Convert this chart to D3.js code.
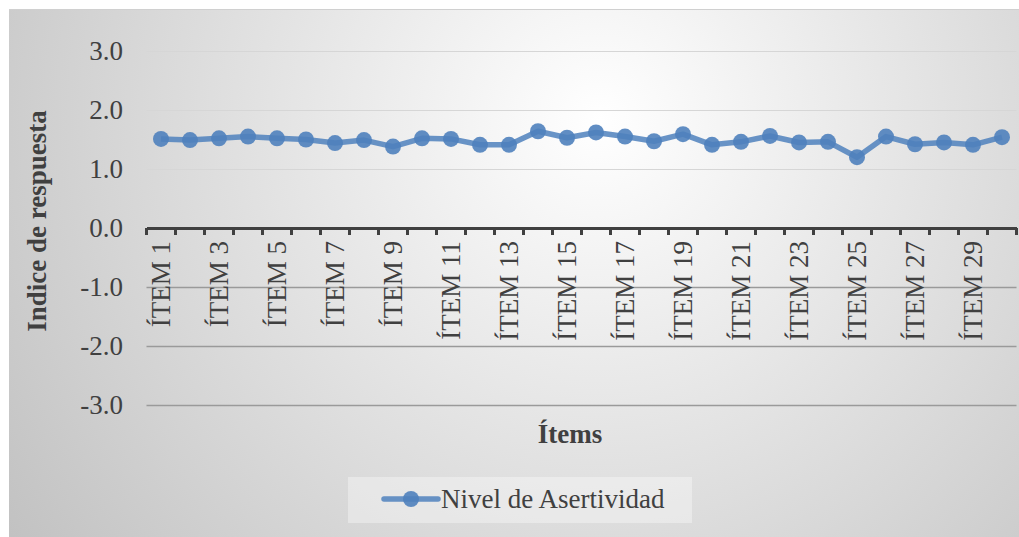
<!DOCTYPE html>
<html><head><meta charset="utf-8">
<script src="https://cdn.jsdelivr.net/npm/d3@7"></script>
<style>html,body{margin:0;padding:0;background:#fff;}svg{display:block;}</style>
</head><body>
<script>
const categories = Array.from({length:30},(_,i)=>"ÍTEM "+(i+1));
const values = [1.51,1.49,1.52,1.55,1.52,1.50,1.44,1.49,1.38,1.52,1.51,1.41,1.41,1.64,1.53,1.62,1.55,1.47,1.59,1.41,1.46,1.56,1.45,1.46,1.20,1.55,1.42,1.45,1.41,1.54];
const yTicks = [-3,-2,-1,0,1,2,3];
const seriesName = "Nivel de Asertividad";

const W=1019,H=537;
const svg=d3.select("body").append("svg").attr("width",W).attr("height",H);
const defs=svg.append("defs");
const rg=defs.append("radialGradient").attr("id","bg").attr("gradientUnits","userSpaceOnUse")
  .attr("cx",600).attr("cy",120).attr("r",720);
rg.append("stop").attr("offset","0%").attr("stop-color","#ffffff");
rg.append("stop").attr("offset","100%").attr("stop-color","#c2c2c2");
svg.append("rect").attr("x",9).attr("y",9).attr("width",W-9).attr("height",H-9).attr("fill","url(#bg)");
svg.append("line").attr("x1",9).attr("x2",W).attr("y1",9.5).attr("y2",9.5).attr("stroke","#d0d0d0");

const x=d3.scaleBand().domain(categories).range([146.5,1016.5]);
const y=d3.scaleLinear().domain([-3,3]).range([405,51]);
const font="'Liberation Serif','Times New Roman','DejaVu Serif',serif";
const fs=27;

// gridlines
svg.append("g").selectAll("line").data(yTicks.filter(d=>d!==0)).join("line")
  .attr("x1",146.5).attr("x2",1016.5).attr("y1",d=>Math.round(y(d))+0.5).attr("y2",d=>Math.round(y(d))+0.5)
  .attr("stroke",d=>d>0?"#d6d6d6":"#9a9a9a").attr("stroke-width",d=>d>0?1:1.3);

// y axis labels
const ya=svg.append("g").attr("transform","translate(146,0)")
  .call(d3.axisLeft(y).tickValues(yTicks).tickFormat(d=>d3.format(".1f")(d).replace("\u2212","-")).tickSize(0).tickPadding(23));
ya.select(".domain").remove();
ya.attr("font-family",null);
ya.selectAll("text").style("font-family",font).attr("font-size",fs).attr("fill","#404040");

// x axis
const xa=svg.append("g").attr("transform",`translate(0,${y(0)})`)
  .call(d3.axisBottom(x).tickSize(0).tickFormat((d,i)=>i%2===0?d:""));
xa.attr("font-family",null);
xa.select(".domain").attr("stroke","#404040").attr("stroke-width",3);
xa.selectAll("text").style("font-family",font).attr("font-size",fs).attr("fill","#404040")
  .attr("transform","rotate(-90)").attr("text-anchor","end").attr("dy","0.33em").attr("x",-13).attr("y",0);
// tick marks at band boundaries
const bounds=categories.map(c=>x(c)).concat([x.range()[1]]);
svg.append("g").selectAll("line").data(bounds).join("line")
  .attr("x1",d=>d).attr("x2",d=>d).attr("y1",y(0)).attr("y2",y(0)+7)
  .attr("stroke","#404040").attr("stroke-width",3);

// axis titles
svg.append("text").attr("transform","translate(46,221) rotate(-90)").attr("text-anchor","middle")
  .style("font-family",font).attr("font-size",fs).attr("font-weight","bold").attr("fill","#404040").text("Indice de respuesta");
svg.append("text").attr("x",570).attr("y",443).attr("text-anchor","middle")
  .style("font-family",font).attr("font-size",fs).attr("font-weight","bold").attr("fill","#404040").text("Ítems");

// series
const cx=(d,i)=>x(categories[i])+x.bandwidth()/2;
const line=d3.line().x((d,i)=>cx(d,i)).y(d=>y(d));
const col="#4f81bd";
svg.append("path").datum(values).attr("d",line).attr("fill","none").attr("stroke",col)
  .attr("stroke-width",5.5).attr("stroke-opacity",0.85).attr("stroke-linejoin","round");
svg.append("g").selectAll("circle").data(values).join("circle")
  .attr("cx",cx).attr("cy",d=>y(d)).attr("r",8).attr("fill",col).attr("fill-opacity",0.9);

// legend
const lg=svg.append("g");
lg.append("rect").attr("x",348).attr("y",477).attr("width",344).attr("height",46).attr("fill","#ffffff").attr("fill-opacity",0.35);
lg.append("line").attr("x1",384).attr("x2",438).attr("y1",499).attr("y2",499).attr("stroke",col).attr("stroke-width",5.5).attr("stroke-opacity",0.85).attr("stroke-linecap","round");
lg.append("circle").attr("cx",411).attr("cy",499).attr("r",8).attr("fill",col).attr("fill-opacity",0.9);
lg.append("text").attr("x",441).attr("y",508).style("font-family",font).attr("font-size",fs).attr("fill","#404040").text(seriesName);
</script>
</body></html>
